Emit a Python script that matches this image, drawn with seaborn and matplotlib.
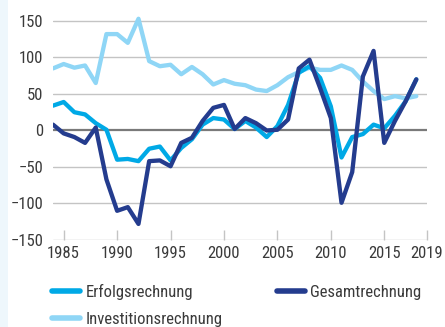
import matplotlib
matplotlib.use("Agg")
import matplotlib.pyplot as plt
from matplotlib.patches import Rectangle
from matplotlib.lines import Line2D
from matplotlib import font_manager
import pandas as pd
import seaborn as sns

# Annual results (CHF millions), 1984-2018
years = list(range(1984, 2019))

erfolgsrechnung = [34, 39, 25, 22, 10, 1, -40, -39, -42, -25,
                   -22, -41, -24, -12, 8, 17, 15, 2, 13, 4,
                   -9, 6, 35, 79, 88, 72, 33, -37, -9, -5,
                   8, 3, 20, 40, 70]

gesamtrechnung = [8, -4, -9, -17, 4, -67, -110, -105, -128, -42,
                  -41, -49, -17, -10, 13, 31, 35, 2, 17, 10,
                  0, 1, 15, 85, 97, 58, 17, -99, -57, 74,
                  109, -17, 13, 40, 70]

investitionsrechnung = [85, 91, 86, 89, 65, 132, 132, 120, 153, 95,
                        88, 90, 77, 87, 77, 63, 69, 64, 62, 56,
                        54, 62, 73, 80, 86, 83, 83, 89, 83, 67,
                        54, 43, 47, 44, 47]

series_names = ["Erfolgsrechnung", "Gesamtrechnung", "Investitionsrechnung"]
series_colors = ["#00a9e6", "#243c8e", "#8fd6f6"]

x_ticks = [1985, 1990, 1995, 2000, 2005, 2010, 2015, 2019]
y_ticks = [-150, -100, -50, 0, 50, 100, 150]

df = pd.DataFrame({
    "Jahr": years * 3,
    "Wert": erfolgsrechnung + gesamtrechnung + investitionsrechnung,
    "Reihe": (["Erfolgsrechnung"] * len(years)
              + ["Gesamtrechnung"] * len(years)
              + ["Investitionsrechnung"] * len(years)),
})

sns.set_style("white")

# pick a narrow sans face if one is available
available = {f.name for f in font_manager.fontManager.ttflist}
narrow = [n for n in ["Roboto Condensed", "Liberation Sans Narrow",
                      "Open Sans Condensed", "DejaVu Sans Condensed"] if n in available]
plt.rcParams["font.family"] = narrow + ["DejaVu Sans"]
plt.rcParams["font.stretch"] = "condensed"
plt.rcParams["axes.unicode_minus"] = True

FS = 12.0
TXT = "#3a3a3a"

fig = plt.figure(figsize=(4.45, 3.27), dpi=100)
fig.patches.append(Rectangle((0, 0), 8 / 445, 1, transform=fig.transFigure,
                             facecolor="#eef7fc", edgecolor="none", zorder=0))
ax = fig.add_axes([53 / 445, 1 - 240 / 327, (427 - 53) / 445, (240 - 10) / 327])

# horizontal grid, zero line emphasised
for yv in y_ticks:
    if yv == 0:
        continue
    ax.axhline(yv, color="#c4c4c4", lw=1.0, zorder=1)
ax.axhline(0, color="#7a7a7a", lw=1.6, zorder=1)

palette = dict(zip(series_names, series_colors))
sns.lineplot(data=df, x="Jahr", y="Wert", hue="Reihe", hue_order=series_names,
             palette=palette, linewidth=3.1, ax=ax, legend=False, zorder=3)
for line, name in zip(ax.get_lines()[-3:], series_names):
    if name == "Investitionsrechnung":
        line.set_zorder(2)

ax.set_xlim(1984, 2019)
ax.set_ylim(-150, 165)
ax.set_xticks(x_ticks)
ax.set_yticks(y_ticks)
ax.set_xlabel("")
ax.set_ylabel("")
for s in ax.spines.values():
    s.set_visible(False)

ax.tick_params(axis="x", bottom=True, direction="in", length=7, width=1,
               color="#c4c4c4", pad=4, labelsize=FS, labelcolor=TXT)
ax.tick_params(axis="y", left=False, length=0, pad=7, labelsize=FS, labelcolor=TXT)

handles = [Line2D([], [], color=c, lw=4, solid_capstyle="round")
           for c in [series_colors[0], series_colors[2], series_colors[1]]]
labels = ["Erfolgsrechnung", "Investitionsrechnung", "Gesamtrechnung"]
fig.legend(handles, labels, ncol=2, loc="upper left",
           bbox_to_anchor=(52 / 445, 1 - 284 / 327), frameon=False,
           fontsize=FS, handlelength=1.7, handletextpad=0.3,
           columnspacing=3.25, labelspacing=0.72, borderpad=0,
           borderaxespad=0, labelcolor=TXT)

fig.savefig("out.png", dpi=100, facecolor="white")
